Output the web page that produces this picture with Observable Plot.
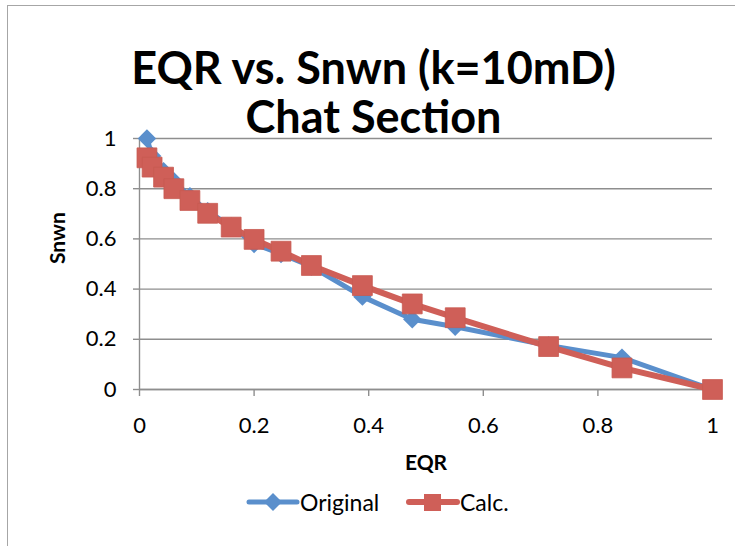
<!DOCTYPE html>
<html>
<head>
<meta charset="utf-8">
<script src="https://cdn.jsdelivr.net/npm/d3@7"></script>
<script src="https://cdn.jsdelivr.net/npm/@observablehq/plot@0.6"></script>
<style>
  html, body { margin: 0; padding: 0; background: #fff; }
  #wrap { position: relative; width: 735px; height: 546px; overflow: hidden; font-family: Lato, "Open Sans", sans-serif; }
  #frame { position: absolute; left: 7px; top: 5px; right: -5px; bottom: -5px; border-left: 1.5px solid #a6a6a6; border-top: 1.5px solid #a6a6a6; }
  #title { position: absolute; left: 0; width: 747px; top: 43px; text-align: center; font-weight: bold; font-size: 45px; line-height: 49px; color: #000; }
  #chart { position: absolute; left: 0; top: 120px; }
  #legend { position: absolute; top: 488px; left: 0; width: 735px; height: 28px; }
  #legend .item { position: absolute; top: 0; height: 28px; display: flex; align-items: center; font-size: 23px; color: #000; }
  #legend svg { display: block; }
</style>
</head>
<body>
<div id="wrap">
  <div id="frame"></div>
  <div id="title">EQR vs. Snwn (k=10mD)<br>Chat Section</div>
  <div id="chart"></div>
  <div id="legend"></div>
</div>
<script>
const eqr      = [0.013, 0.022, 0.042, 0.06, 0.088, 0.119, 0.16, 0.20, 0.247, 0.30, 0.389, 0.476, 0.551, 0.714, 0.842, 1.0];
const original = [1.00, 0.93, 0.87, 0.83, 0.77, 0.71, 0.65, 0.58, 0.54, 0.49, 0.37, 0.28, 0.25, 0.175, 0.127, 0.0];
const calc     = [0.923, 0.886, 0.846, 0.80, 0.753, 0.702, 0.647, 0.598, 0.551, 0.494, 0.414, 0.341, 0.286, 0.171, 0.086, 0.0];
const ticks    = [0, 0.2, 0.4, 0.6, 0.8, 1];
const seriesNames = ["Original", "Calc."];
const colors = { "Original": "#5a8fcc", "Calc.": "#cf5f58" };

const origData = eqr.map((x, i) => ({ x, y: original[i] }));
const calcData = eqr.map((x, i) => ({ x, y: calc[i] }));

const grey = "#8e8e8e";
const font = "Lato, 'Open Sans', sans-serif";

const plot = Plot.plot({
  width: 735,
  height: 360,
  marginLeft: 139,
  marginRight: 23,
  marginTop: 18,
  marginBottom: 91,
  style: { fontFamily: font, fontSize: "22px", color: "#000", background: "transparent", overflow: "visible" },
  x: { domain: [0, 1], ticks: ticks, tickFormat: d => String(d) },
  y: { domain: [0, 1], ticks: ticks, tickFormat: d => String(d) },
  marks: [
    Plot.gridY(ticks, { stroke: grey, strokeOpacity: 1, strokeWidth: 1.4 }),
    Plot.axisY(ticks, { tickSize: 6, tickPadding: 17, stroke: grey, strokeWidth: 1.4, label: null, tickFormat: d => String(d), fontSize: 22 }),
    Plot.axisX(ticks, { tickSize: 7, tickPadding: 21, stroke: grey, strokeWidth: 1.4, label: null, tickFormat: d => String(d), fontSize: 22 }),
    Plot.ruleX([0], { stroke: grey, strokeWidth: 1.4 }),
    Plot.ruleY([0], { stroke: grey, strokeWidth: 1.4 }),
    Plot.line(origData, { x: "x", y: "y", stroke: colors["Original"], strokeWidth: 5, strokeLinejoin: "round", strokeLinecap: "round" }),
    Plot.dot(origData, { x: "x", y: "y", symbol: "diamond2", r: 8.3, fill: colors["Original"], stroke: "none" }),
    Plot.line(calcData, { x: "x", y: "y", stroke: colors["Calc."], strokeWidth: 6, strokeLinejoin: "round", strokeLinecap: "round" }),
    Plot.dot(calcData, { x: "x", y: "y", symbol: "square", r: 11.2, fill: colors["Calc."], stroke: "#c85a52", strokeWidth: 0.8 }),
    Plot.text(["EQR"], { frameAnchor: "bottom", dy: 80, fontWeight: "bold", fontSize: 21, fill: "#000" }),
    Plot.text(["Snwn"], { frameAnchor: "left", dx: -81, rotate: -90, fontWeight: "bold", fontSize: 21, fill: "#000" })
  ]
});
document.getElementById("chart").appendChild(plot);

// legend
const legend = d3.select("#legend");
const legendItems = [
  { name: seriesNames[0], left: 246, symbol: "diamond" },
  { name: seriesNames[1], left: 406, symbol: "square" }
];
legendItems.forEach(it => {
  const item = legend.append("div").attr("class", "item").style("left", it.left + "px");
  const svg = item.append("svg").attr("width", 54).attr("height", 28);
  const c = colors[it.name];
  svg.append("line").attr("x1", 3).attr("x2", 51).attr("y1", 14).attr("y2", 14)
    .attr("stroke", c).attr("stroke-width", it.symbol === "square" ? 6 : 5).attr("stroke-linecap", "round");
  if (it.symbol === "diamond") {
    svg.append("path").attr("d", "M27,5 L36,14 L27,23 L18,14 Z").attr("fill", c);
  } else {
    svg.append("rect").attr("x", 18).attr("y", 6).attr("width", 17).attr("height", 17).attr("fill", c);
  }
  item.append("span").text(it.name);
});
</script>
</body>
</html>
